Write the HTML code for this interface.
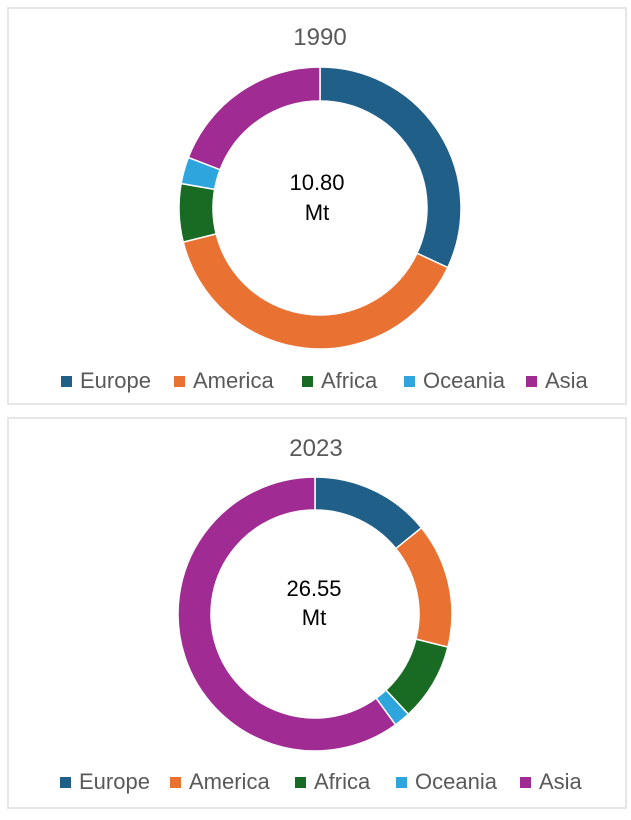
<!DOCTYPE html>
<html><head><meta charset="utf-8"><style>
html,body{margin:0;padding:0;background:#fff;width:631px;height:820px;overflow:hidden}
svg text{font-family:"Liberation Sans",sans-serif}
</style></head><body>
<svg id="s" width="631" height="820" xmlns="http://www.w3.org/2000/svg">
<rect x="0" y="0" width="631" height="820" fill="#fff"/>
<rect x="8" y="8" width="618" height="396" fill="#fff" stroke="#e6e6e6" stroke-width="2"/>
<rect x="8" y="418" width="618" height="390" fill="#fff" stroke="#e6e6e6" stroke-width="2"/>
<text x="320" y="45" font-size="24" fill="#595959" text-anchor="middle">1990</text>
<text x="316" y="456" font-size="24" fill="#595959" text-anchor="middle">2023</text>
<text x="317" y="190" font-size="22" fill="#000" text-anchor="middle">10.80</text>
<text x="317" y="220" font-size="22" fill="#000" text-anchor="middle">Mt</text>
<text x="314" y="596" font-size="22" fill="#000" text-anchor="middle">26.55</text>
<text x="314" y="625" font-size="22" fill="#000" text-anchor="middle">Mt</text>
<g id="g"></g>
</svg>
<script>
var C=["#1f5f88","#e97132","#196b24","#2fa5dd","#a02b93"];
var N=["Europe","America","Africa","Oceania","Asia"];
function donut(cx,cy,R,r,angs){
 var o="",a0=0;
 for(var i=0;i<5;i++){
  var a1=angs[i];
  function p(rad,a){var t=a*Math.PI/180;return (cx+rad*Math.sin(t)).toFixed(2)+","+(cy-rad*Math.cos(t)).toFixed(2);}
  var lg=(a1-a0)>180?1:0;
  o+='<path d="M'+p(R,a0)+' A'+R+','+R+' 0 '+lg+' 1 '+p(R,a1)+' L'+p(r,a1)+' A'+r+','+r+' 0 '+lg+' 0 '+p(r,a0)+' Z" fill="'+C[i]+'" stroke="#fff" stroke-width="1.5"/>';
  a0=a1;
 }
 return o;
}
function legend(y,sq){
 var o="";
 for(var i=0;i<5;i++){
  o+='<rect x="'+sq[i]+'" y="'+(y-12)+'" width="11" height="11" fill="'+C[i]+'"/>';
  o+='<text x="'+(sq[i]+19)+'" y="'+y+'" font-size="22" fill="#595959">'+N[i]+'</text>';
 }
 return o;
}
var h=donut(320,208,141,107,[115,256,280,291,360]);
h+=donut(315,614,137,104,[51,104,137,144,360]);
h+=legend(388,[61,174,302,404,526]);
h+=legend(789,[60,170,295,396,520]);
document.getElementById("g").innerHTML=h;
</script>
</body></html>
